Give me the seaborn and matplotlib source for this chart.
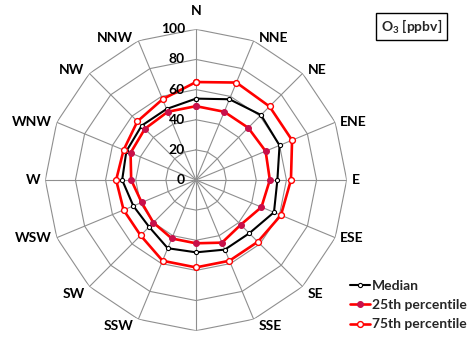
import numpy as np
import pandas as pd
import matplotlib
matplotlib.use("Agg")
import matplotlib.pyplot as plt
import seaborn as sns

# Wind sectors and ozone statistics per sector (ppbv)
directions = ["N", "NNE", "NE", "ENE", "E", "ESE", "SE", "SSE",
              "S", "SSW", "SW", "WSW", "W", "WNW", "NW", "NNW"]
median = [54, 58, 61, 60, 54, 56, 50, 50, 48, 49, 44, 45, 49, 50, 51, 51]
p25 = [49, 49, 49, 50, 49, 47, 42, 45, 42, 42, 40, 39, 43, 47, 48, 49]
p75 = [65, 70, 69, 69, 63, 61, 58, 58, 58, 58, 52, 52, 53, 52, 55, 58]
ring_values = [0, 20, 40, 60, 80, 100]
series_names = ["Median", "25th percentile", "75th percentile"]

sns.set_theme(style="white")
plt.rcParams["font.family"] = ["Lato", "DejaVu Sans"]
plt.rcParams["font.weight"] = "bold"
plt.rcParams["mathtext.fontset"] = "custom"
plt.rcParams["mathtext.rm"] = "Lato:bold"
plt.rcParams["mathtext.bf"] = "Lato:bold"
plt.rcParams["mathtext.default"] = "rm"

W, H = 467, 337
fig = plt.figure(figsize=(W / 100, H / 100), dpi=100)
cx, cy, R = 196, 180, 150.7
ax = fig.add_axes([(cx - R) / W, (H - cy - R) / H, 2 * R / W, 2 * R / H],
                  projection="polar")
ax.set_theta_zero_location("N")
ax.set_theta_direction(-1)
ax.set_ylim(0, 100)
ax.grid(False)
ax.set_xticks([])
ax.set_yticks([])
ax.spines["polar"].set_visible(False)
ax.patch.set_alpha(0)

n = len(directions)
theta = np.arange(n) * 2 * np.pi / n
theta_closed = np.append(theta, 2 * np.pi)

# Polygonal grid: rings and spokes
grid_kw = dict(color="#8f8f8f", lw=0.8, zorder=1)
for v in ring_values[1:]:
    ax.plot(theta_closed, [v] * (n + 1), **grid_kw)
for t in theta:
    ax.plot([t, t], [0, 100], **grid_kw)

# Radial tick labels along the north spoke
for v in ring_values:
    ax.annotate(str(v), xy=(0, v), xytext=(-11, 0), textcoords="offset pixels",
                ha="right", va="center", fontsize=10, fontweight="bold",
                color="black", zorder=5)

# Sector labels around the outer ring
for t, name in zip(theta, directions):
    s, c = np.sin(t), np.cos(t)
    if c < -0.99:
        continue  # the bottom label falls below the figure edge
    if abs(s) < 0.01:
        ha, dx = "center", 0
    elif s > 0:
        ha, dx = "left", 5
    else:
        ha, dx = "right", -5
    if c > 0.99:
        va, dy = "baseline", 14
    elif c > 0.5:
        va, dy = "center", 3
    elif c > -0.5:
        va, dy = "center", 0
    else:
        va, dy = "top", -1
    ax.annotate(name, xy=(t, 100), xytext=(dx, dy), textcoords="offset pixels",
                ha=ha, va=va, fontsize=10, fontweight="bold", color="black",
                annotation_clip=False)

df = pd.DataFrame({
    "theta": np.tile(theta_closed, 3),
    "value": median + median[:1] + p25 + p25[:1] + p75 + p75[:1],
    "series": np.repeat(series_names, n + 1),
})

styles = {
    "Median": dict(color="black", lw=1.5, marker="o", markersize=3,
                   markerfacecolor="white", markeredgecolor="black",
                   markeredgewidth=0.8),
    "25th percentile": dict(color="#ff0000", lw=1.9, marker="o", markersize=4.2,
                            markerfacecolor="#c8104a", markeredgecolor="#c8104a",
                            markeredgewidth=0.8),
    "75th percentile": dict(color="#ff0000", lw=1.9, marker="o", markersize=4.2,
                            markerfacecolor="white", markeredgecolor="#ff0000",
                            markeredgewidth=1.0),
}
for name in series_names:
    sub = df[df["series"] == name]
    sns.lineplot(data=sub, x="theta", y="value", ax=ax, sort=False,
                 label=name, zorder=3, **styles[name])

ax.set_xlabel("")
ax.set_ylabel("")
ax.set_ylim(0, 100)

handles, labels = ax.get_legend_handles_labels()
ax.legend_.remove()
fig.legend(handles, labels, loc="upper left",
           bbox_to_anchor=(343 / W, (H - 273) / H), frameon=False,
           borderpad=0, handlelength=1.45, handletextpad=0.15,
           labelspacing=0.52, prop=dict(size=10, weight="bold"))

fig.text(411.5 / W, (H - 26.5) / H, "O$_3$ [ppbv]", ha="center", va="center",
         fontsize=10, fontweight="bold",
         bbox=dict(boxstyle="square,pad=0.35", facecolor="white",
                   edgecolor="black", linewidth=1.0))

fig.savefig("out.png", dpi=100)
